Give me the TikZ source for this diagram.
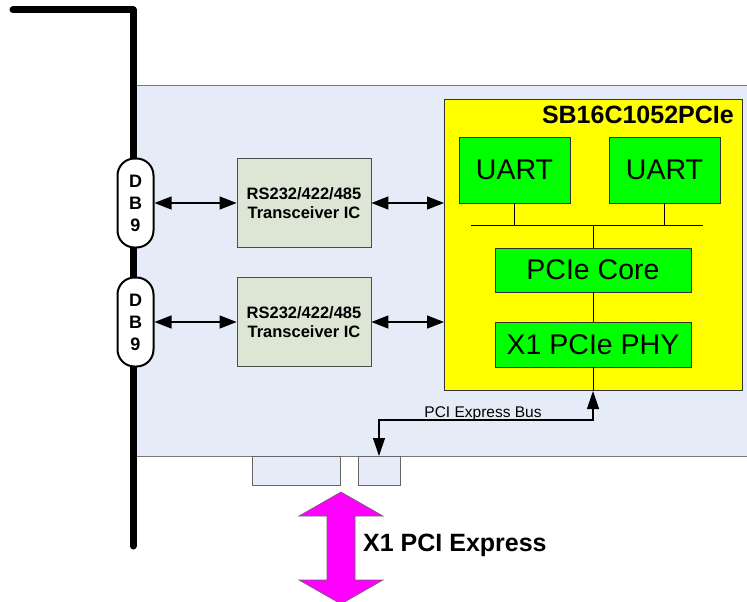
\documentclass[tikz,border=0pt]{standalone}
\usepackage{fontspec}
\setmainfont{Liberation Sans}
\usetikzlibrary{arrows.meta}
\definecolor{boardfill}{RGB}{230,236,247}
\definecolor{boardline}{RGB}{120,120,120}
\definecolor{trfill}{RGB}{221,229,213}
\definecolor{chipyellow}{RGB}{255,255,0}
\definecolor{blockgreen}{RGB}{0,255,0}
\definecolor{pcimag}{RGB}{255,0,255}
\tikzset{
  dbbox/.style={draw=black, line width=2pt, fill=white, rounded corners=17pt,
    minimum width=36pt, minimum height=89pt, inner sep=0pt, align=center,
    font=\fontsize{18}{22}\selectfont\bfseries},
  trbox/.style={draw=black!70, line width=0.8pt, fill=trfill, minimum width=134pt,
    minimum height=89pt, inner sep=0pt, align=center,
    font=\fontsize{16.5}{19.5}\selectfont\bfseries},
  gbox/.style={draw=black!80, line width=0.8pt, fill=blockgreen, inner sep=0pt,
    font=\fontsize{28.5}{30}\selectfont},
  slotbox/.style={draw=black!60, line width=0.8pt, fill=boardfill, inner sep=0pt,
    minimum height=29pt},
  conn/.style={line width=1.3pt, {Triangle[length=17pt,width=13pt]}-{Triangle[length=17pt,width=13pt]}},
  wire/.style={line width=1pt, black},
}
\begin{document}
\begin{tikzpicture}[x=1pt,y=-1pt]
\clip (0,0) rectangle (747,602);
\useasboundingbox (0,0) rectangle (747,602);
% board
\node[draw=boardline, line width=1.3pt, fill=boardfill, minimum width=620pt, minimum height=371pt, inner sep=0pt, anchor=north west] (board) at (133,85) {};
% slots
\node[slotbox, minimum width=88pt, anchor=north] (slot1) at (296,456) {};
\node[slotbox, minimum width=42pt, anchor=north] (slot2) at (379,456) {};
% bracket
\draw[line width=7pt, line cap=round, line join=round] (13,10) -- (133,10) -- (133,546);
% DB9
\node[dbbox] (db1) at (135.5,203) {D\\B\\9};
\node[dbbox] (db2) at (135.5,322) {D\\B\\9};
% transceivers
\node[trbox] (tr1) at (304,203) {RS232/422/485\\Transceiver IC};
\node[trbox] (tr2) at (304,322) {RS232/422/485\\Transceiver IC};
% chip
\node[draw=black!80, line width=1pt, fill=chipyellow, minimum width=298pt, minimum height=291pt, inner sep=0pt, anchor=north west] (chip) at (444,99) {};
\node[anchor=base east, inner sep=0pt, font=\fontsize{25}{27}\selectfont\bfseries] (title) at (734,123) {SB16C1052PCIe};
\node[gbox, minimum width=111pt, minimum height=66pt] (u1) at (514.5,170) {UART};
\node[gbox, minimum width=111pt, minimum height=66pt] (u2) at (664.5,170) {UART};
\node[gbox, minimum width=196pt, minimum height=44pt] (core) at (593,270) {PCIe Core};
\node[gbox, minimum width=196pt, minimum height=45pt] (phy) at (593,344.5) {X1 PCIe PHY};
\coordinate (busL) at (471,225);
\coordinate (busR) at (703,225);
\coordinate (busY) at (0,420);
% connectors
\draw[conn] (db1.east) -- (tr1.west);
\draw[conn] (db2.east) -- (tr2.west);
\draw[conn] (tr1.east) -- (tr1.east -| chip.west);
\draw[conn] (tr2.east) -- (tr2.east -| chip.west);
\draw[wire] (busL) -- (busR);
\draw[wire] (u1.south) -- (u1.south |- busL);
\draw[wire] (u2.south) -- (u2.south |- busL);
\draw[wire] (core.north) -- (core.north |- busL);
\draw[wire] (core.south) -- (phy.north);
\draw[wire] (phy.south) -- (phy.south |- chip.south);
\draw[line width=1.1pt, {Triangle[length=18pt,width=12pt]}-{Triangle[length=18pt,width=12pt]}]
  (phy.south |- chip.south) |- (slot2.north |- busY) -- (slot2.north);
\node[anchor=base, inner sep=0pt, font=\fontsize{15.5}{17}\selectfont] (buslabel) at (483,417) {PCI Express Bus};
% external PCI express arrow
\draw[fill=pcimag, draw=black!60, line width=0.6pt]
  (341,492) -- (383,516) -- (355,516) -- (355,580) -- (383,580) -- (341,604)
  -- (299,580) -- (327,580) -- (327,516) -- (299,516) -- cycle;
\node[anchor=west, inner sep=0pt, font=\fontsize{25}{27}\selectfont\bfseries] (pcilabel) at (363,545) {X1 PCI Express};
\end{tikzpicture}
\end{document}
